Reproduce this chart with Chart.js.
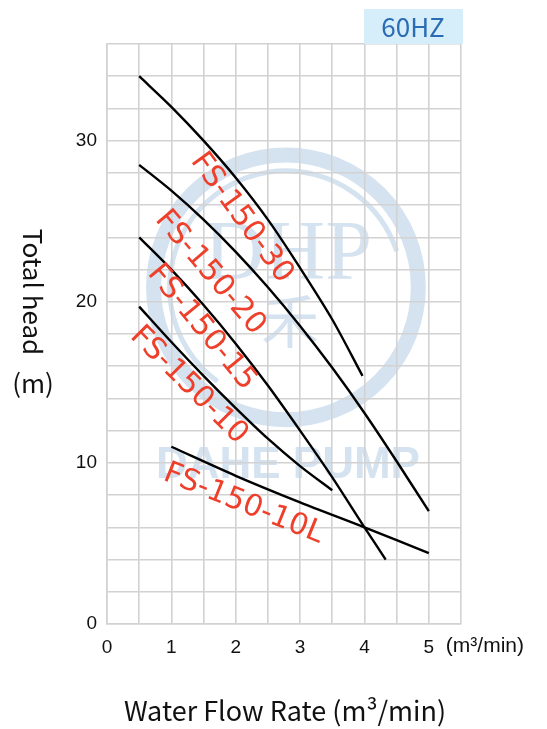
<!DOCTYPE html>
<html>
<head>
<meta charset="utf-8">
<script src="https://cdn.jsdelivr.net/npm/chart.js@4"></script>
<style>
  html, body { margin: 0; padding: 0; background: #fff; }
  #wrap { width: 547px; height: 729px; }
</style>
</head>
<body>
<div id="wrap"><canvas id="grafica" width="547" height="729"></canvas></div>
<script>
// curva de cada bomba: caudal (m3/min) y altura (m)
const modelos = ['FS-150-30', 'FS-150-20', 'FS-150-15', 'FS-150-10', 'FS-150-10L'];

const caudal30 = [0.5, 1, 1.5, 2, 2.5, 3, 3.5, 3.97];
const altura30 = [34.0, 32.1, 30.0, 27.7, 25.1, 22.1, 18.9, 15.4];

const caudal20 = [0.5, 1, 1.5, 2, 2.5, 3, 3.5, 4, 4.5, 5];
const altura20 = [28.5, 26.9, 25.1, 23.1, 20.9, 18.5, 15.9, 13.1, 10.1, 7.0];

const caudal15 = [0.5, 1, 1.5, 2, 2.5, 3, 3.5, 4, 4.33];
const altura15 = [24.0, 22.0, 19.8, 17.4, 14.8, 12.0, 9.1, 6.0, 4.0];

const caudal10 = [0.5, 1, 1.5, 2, 2.5, 3, 3.5];
const altura10 = [19.7, 17.5, 15.4, 13.4, 11.5, 9.8, 8.3];

const caudal10L = [1, 2, 3, 4, 5];
const altura10L = [11.0, 9.2, 7.55, 6.0, 4.4];

const ticksX = [0, 1, 2, 3, 4, 5];
const ticksY = [0, 10, 20, 30];

// donde va el nombre de cada curva (en unidades del grafico) y su giro
const etiquetas = [
    { x: 2.09, y: 25.2, giro: 54 },
    { x: 1.60, y: 21.8, giro: 49.5 },
    { x: 1.47, y: 18.4, giro: 50.5 },
    { x: 1.27, y: 14.8, giro: 45 },
    { x: 2.12, y: 7.44, giro: 22 }
];

const series = [
    [caudal30, altura30],
    [caudal20, altura20],
    [caudal15, altura15],
    [caudal10, altura10],
    [caudal10L, altura10L]
];

const datasets = series.map(([xs, ys], i) => ({
    label: modelos[i],
    data: xs.map((x, j) => ({ x: x, y: ys[j] })),
    showLine: true,
    borderColor: '#000',
    borderWidth: 2.4,
    pointRadius: 0,
    tension: 0.3,
    fill: false
}));

const ROJO = '#ee3f2b';
const AZUL_MARCA = '#d5e3f0';

const decoracion = {
    id: 'decoracion',
    beforeDraw(chart) {
        // marca de agua DHP
        const { ctx, scales: { x, y } } = chart;
        const cx = x.getPixelForValue(2.78);
        const cy = y.getPixelForValue(20.9);
        const r = x.getPixelForValue(2.15) - x.getPixelForValue(0);
        ctx.save();
        ctx.strokeStyle = AZUL_MARCA;
        ctx.fillStyle = AZUL_MARCA;
        ctx.lineWidth = 15;
        ctx.beginPath();
        ctx.arc(cx, cy, r - 6, 0, Math.PI * 2);
        ctx.stroke();
        ctx.lineWidth = 5;
        ctx.beginPath();
        ctx.arc(cx, cy, r - 22, Math.PI * 0.7, Math.PI * 1.9);
        ctx.stroke();
        ctx.textAlign = 'center';
        ctx.textBaseline = 'middle';
        ctx.font = '84px "Liberation Serif"';
        ctx.fillText('DHP', cx + 2, cy - 30);
        ctx.font = '58px "Noto Sans CJK SC"';
        ctx.fillText('禾', cx + 4, cy + 34);
        ctx.font = 'bold 44px "Liberation Sans"';
        ctx.fillText('DAHE PUMP', cx + 2, y.getPixelForValue(9.8));
        ctx.restore();
    },
    afterDatasetsDraw(chart) {
        const { ctx, scales: { x, y } } = chart;
        ctx.save();
        ctx.fillStyle = ROJO;
        ctx.font = '30px "DejaVu Sans"';
        ctx.textAlign = 'center';
        ctx.textBaseline = 'middle';
        etiquetas.forEach((e, i) => {
            ctx.save();
            ctx.translate(x.getPixelForValue(e.x), y.getPixelForValue(e.y));
            ctx.rotate(e.giro * Math.PI / 180);
            ctx.fillText(modelos[i], 0, 0);
            ctx.restore();
        });
        ctx.restore();
    },
    afterDraw(chart) {
        const { ctx, chartArea: area, scales: { x, y } } = chart;
        ctx.save();
        ctx.fillStyle = '#111';
        ctx.textBaseline = 'middle';

        // unidad junto al 5
        ctx.font = '21px "Liberation Sans"';
        ctx.textAlign = 'left';
        ctx.fillText('(m\u00b3/min)', x.getPixelForValue(5) + 17, 646);

        // titulo eje x
        ctx.font = '27px "Noto Sans CJK JP"';
        ctx.textAlign = 'center';
        ctx.fillText('Water Flow Rate (m\u00b3/min)', 285, 711);

        // titulo eje y, leido de arriba hacia abajo
        ctx.save();
        ctx.translate(33, 292);
        ctx.rotate(Math.PI / 2);
        ctx.font = '26px "Noto Sans CJK JP"';
        ctx.fillText('Total head', 0, 0);
        ctx.restore();
        ctx.font = '26px "Noto Sans CJK JP"';
        ctx.fillText('(m)', 33, 383);

        // caja 60HZ
        ctx.fillStyle = '#d6edfa';
        ctx.fillRect(area.right - 97, 9, 99, area.top - 9);
        ctx.fillStyle = '#2b6cb5';
        ctx.font = '26px "Noto Sans CJK JP"';
        ctx.fillText('60HZ', area.right - 48, 27);
        ctx.restore();
    }
};

const colorRejilla = '#d2d2d2';

new Chart(document.getElementById('grafica'), {
    type: 'scatter',
    data: { datasets },
    options: {
        responsive: false,
        animation: false,
        layout: { padding: { top: 44, right: 86, left: 0, bottom: 0 } },
        plugins: { legend: { display: false }, tooltip: { enabled: false } },
        scales: {
            x: {
                type: 'linear',
                min: 0,
                max: 5.5,
                afterFit: s => { s.height = 105; },
                grid: { color: colorRejilla, lineWidth: 1.6, drawTicks: false },
                border: { color: colorRejilla, width: 1.6 },
                ticks: {
                    stepSize: 0.5,
                    autoSkip: false,
                    maxRotation: 0,
                    padding: 12,
                    color: '#111',
                    font: { family: '"Liberation Sans"', size: 19 },
                    callback: v => ticksX.includes(v) ? v : ''
                }
            },
            y: {
                type: 'linear',
                min: 0,
                max: 36,
                afterFit: s => { s.width = 107; },
                grid: { color: colorRejilla, lineWidth: 1.6, drawTicks: false },
                border: { color: colorRejilla, width: 1.6 },
                ticks: {
                    stepSize: 2,
                    autoSkip: false,
                    padding: 10,
                    color: '#111',
                    font: { family: '"Liberation Sans"', size: 19 },
                    callback: v => ticksY.includes(v) ? v : ''
                }
            }
        }
    },
    plugins: [decoracion]
});
</script>
</body>
</html>
